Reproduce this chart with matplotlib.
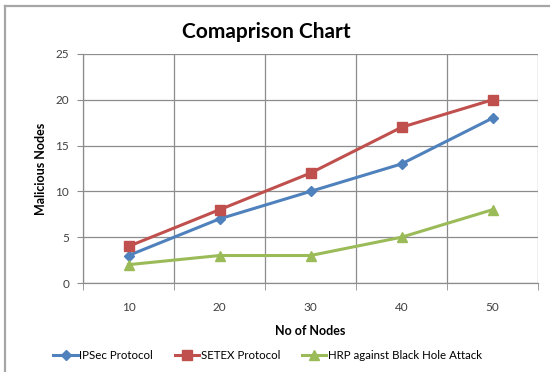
import matplotlib.pyplot as plt
from matplotlib.lines import Line2D

plt.rcParams['font.family'] = ['Lato', 'DejaVu Sans']

nodes = ['10', '20', '30', '40', '50']
ipsec = [3, 7, 10, 13, 18]
setex = [4, 8, 12, 17, 20]
hrp = [2, 3, 3, 5, 8]

grid_col = '#8c8c8c'

fig = plt.figure(figsize=(5.5, 3.72), dpi=100)
# outer chart frame: only the top and left edges fall inside the image
frame_x = 4.5 / 550
frame_y = 1 - 5.5 / 372
fig.lines.append(Line2D([frame_x, 1], [frame_y, frame_y], transform=fig.transFigure,
                        color='#a6a6a6', linewidth=1.6))
fig.lines.append(Line2D([frame_x, frame_x], [0, frame_y], transform=fig.transFigure,
                        color='#a6a6a6', linewidth=1.6))

ax = fig.add_axes([83 / 550, 89 / 372, 455 / 550, 229 / 372])
x = range(1, len(nodes) + 1)
ax.plot(x, ipsec, color='#4F81BD', marker='D', markersize=5.5, linewidth=2.2,
        label='IPSec Protocol')
ax.plot(x, setex, color='#C0504D', marker='s', markersize=7, linewidth=2.2,
        label='SETEX Protocol')
ax.plot(x, hrp, color='#9BBB59', marker='^', markersize=7, linewidth=2.2,
        label='HRP against Black Hole Attack')

ax.set_xlim(0.5, len(nodes) + 0.5)
ax.set_ylim(0, 25)
ax.set_yticks(range(0, 26, 5))
ax.set_xticks(list(x))
ax.set_xticklabels(nodes)
ax.set_xticks([i + 0.5 for i in range(len(nodes) + 1)], minor=True)
ax.tick_params(axis='x', which='major', length=0, pad=14, labelsize=8.5, colors='#404040')
ax.tick_params(axis='x', which='minor', length=5, color=grid_col)
ax.tick_params(axis='y', length=4, color=grid_col, labelsize=8.5, labelcolor='#404040', pad=6)
ax.grid(True, axis='y', which='major', color=grid_col, linewidth=0.9)
ax.grid(True, axis='x', which='minor', color=grid_col, linewidth=0.9)
ax.set_axisbelow(True)
for side in ['top', 'right']:
    ax.spines[side].set_visible(False)
for side in ['left', 'bottom']:
    ax.spines[side].set_color(grid_col)
    ax.spines[side].set_linewidth(0.9)

ax.set_xlabel('No of Nodes', fontsize=9, fontweight='bold', labelpad=8)
ax.set_ylabel('Malicious Nodes', fontsize=9, fontweight='bold', labelpad=6)
fig.text(0.485, 0.915, 'Comaprison Chart', ha='center', va='center',
         fontsize=15, fontweight='bold')

fig.legend(loc='center', bbox_to_anchor=(0.487, 0.045), ncol=3, frameon=False,
           fontsize=8.3, handlelength=2.1, columnspacing=1.9, handletextpad=0.15)

fig.savefig('out.png', dpi=100)
